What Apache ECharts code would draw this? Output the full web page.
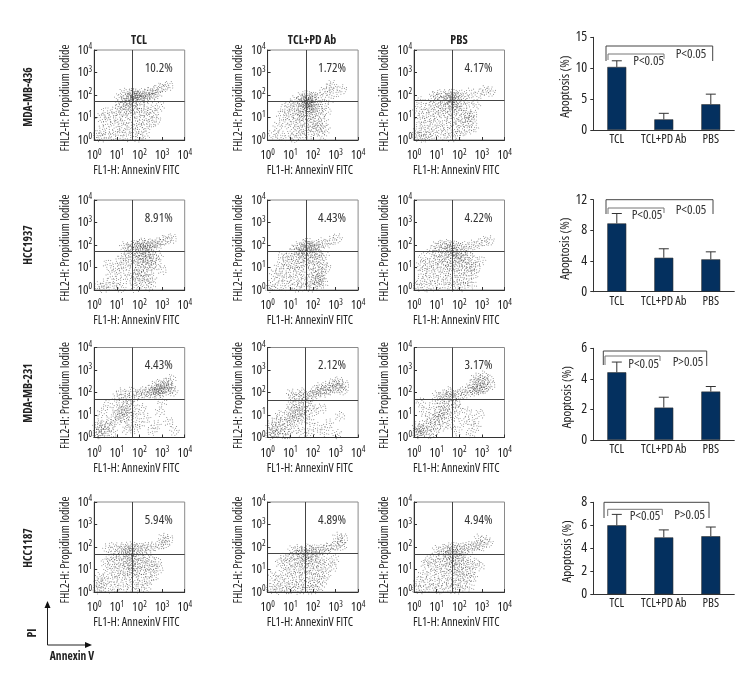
<!DOCTYPE html>
<html><head><meta charset="utf-8">
<script src="https://cdn.jsdelivr.net/npm/echarts@6/dist/echarts.min.js"></script>
<style>html,body{margin:0;padding:0;background:#fff}#c{width:756px;height:696px}</style>
</head><body><div id="c"></div>
<script>
const FONT='"Open Sans",sans-serif',FS='condensed';
const columns=['TCL','TCL+PD Ab','PBS'];
const cellLines=['MDA-MB-436','HCC1937','MDA-MB-231','HCC1187'];
const percents=[['10.2%','1.72%','4.17%'],['8.91%','4.43%','4.22%'],['4.43%','2.12%','3.17%'],['5.94%','4.89%','4.94%']];
const gateX=[[1.69,1.72,1.69],[1.70,1.73,1.68],[1.70,1.67,1.69],[1.69,1.67,1.69]];
const gateY=[[1.72,1.73,1.76],[1.72,1.72,1.72],[1.70,1.67,1.70],[1.70,1.73,1.69]];

const r1c1=[[1.45,1.95],[1.6,2.02],[1.72,1.92],[1.78,2.06],[1.85,1.88],[1.92,2.0],[2.02,1.94],[2.1,2.08],[2.18,1.9],[2.28,2.02],[2.4,2.1],[2.55,2.16],[2.7,2.2],[2.9,2.3],[3.1,2.35],[3.3,2.42],[1.3,2.1],[1.55,1.8],[1.65,1.7],[1.75,1.78],[1.82,1.98],[1.7,2.12],[2.0,1.8],[2.25,1.78],[2.45,1.85],[2.6,1.98],[2.8,2.05],[1.1,1.85],[1.4,1.55],[1.5,1.35],[1.62,1.5],[1.3,1.25],[1.15,1.45],[0.95,1.3],[0.75,1.05],[1.05,0.95],[1.35,0.9],[1.6,1.1],[1.8,1.4],[1.9,1.2],[2.05,1.5],[2.2,1.3],[2.35,1.05],[2.5,1.35],[2.65,1.2],[2.1,0.9],[1.85,0.75],[1.55,0.6],[1.25,0.55],[0.9,0.65],[0.55,0.8],[0.35,0.45],[0.6,0.25],[0.15,0.2],[0.3,0.1],[0.85,0.2],[1.15,0.3],[1.45,0.15],[1.75,0.35],[2.0,0.5],[2.3,0.6],[2.55,0.75],[2.25,0.2],[1.95,0.12],[2.75,0.9],[0.5,1.25],[0.3,1.0],[1.2,1.65],[1.45,1.72],[2.9,1.5]];
const r1c2=[[1.6,1.7],[1.7,1.55],[1.8,1.75],[1.55,1.45],[1.9,1.6],[1.72,1.85],[1.45,1.7],[2.0,1.72],[2.1,1.5],[1.85,1.35],[1.65,1.25],[1.4,1.3],[1.25,1.5],[1.1,1.2],[0.95,1.05],[1.3,1.0],[1.55,0.95],[1.8,1.05],[2.05,1.2],[2.25,1.4],[2.35,1.1],[2.15,0.85],[1.95,0.7],[2.3,0.55],[2.5,0.8],[2.1,0.4],[1.85,0.25],[2.4,0.2],[1.6,0.5],[1.3,0.4],[1.05,0.6],[0.8,0.8],[0.6,1.1],[0.45,0.6],[0.25,0.25],[0.55,0.2],[0.9,0.15],[1.2,0.1],[1.5,0.2],[2.6,1.3],[2.45,1.6],[2.7,1.8],[1.2,1.75],[1.0,1.55],[0.75,1.4],[1.75,2.0],[1.5,1.95],[2.0,1.95],[2.25,1.9],[2.5,2.15],[2.7,2.3],[3.0,2.1],[2.85,2.45],[3.3,2.25],[1.95,1.1],[2.2,0.65],[1.75,0.6],[2.02,1.88],[1.65,1.85],[1.85,1.6],[1.75,1.4],[1.95,1.45],[1.55,1.15],[1.35,0.75],[2.55,0.45],[1.68,1.62],[1.78,1.68]];
const r1c3=[[1.0,2.0],[1.25,2.05],[1.5,1.98],[1.7,2.08],[1.9,1.95],[2.05,2.02],[2.2,1.88],[1.45,1.85],[1.6,1.8],[1.75,1.9],[1.3,1.75],[1.05,1.8],[0.85,1.9],[2.5,2.1],[2.9,2.05],[3.15,2.2],[3.4,2.15],[1.6,1.62],[1.75,1.55],[1.9,1.68],[1.5,1.45],[1.3,1.55],[1.1,1.4],[0.9,1.55],[0.65,1.45],[0.45,1.2],[0.75,1.1],[1.0,1.05],[1.25,1.2],[1.5,1.15],[1.7,1.3],[1.85,1.45],[2.0,1.3],[2.15,1.5],[2.3,1.2],[2.45,1.05],[2.55,0.9],[2.35,0.8],[2.2,0.95],[2.6,1.15],[2.05,0.75],[1.85,0.95],[1.6,0.85],[1.35,0.7],[1.1,0.55],[0.85,0.7],[0.55,0.75],[0.3,0.9],[0.2,0.5],[0.4,0.35],[0.65,0.3],[0.1,0.2],[0.25,0.1],[0.5,0.12],[0.85,0.25],[1.2,0.2],[1.5,0.35],[1.8,0.5],[2.1,0.4],[2.4,0.45],[1.95,0.2],[1.65,0.12],[2.65,0.55],[0.15,1.3],[0.3,1.7],[2.45,1.7],[2.75,1.6],[1.62,1.9],[1.8,1.78]];
const r2c1=[[1.65,1.95],[1.8,2.02],[1.95,1.92],[2.05,2.05],[2.15,1.88],[2.25,1.98],[2.35,2.02],[2.45,1.9],[2.55,2.06],[2.65,2.0],[2.75,2.1],[2.9,2.05],[3.05,2.2],[3.25,2.25],[3.45,2.3],[1.35,1.95],[1.5,1.85],[1.75,1.82],[2.1,2.1],[2.4,1.8],[2.2,1.72],[1.95,1.6],[2.1,1.5],[2.3,1.55],[2.5,1.62],[2.65,1.4],[2.4,1.35],[2.15,1.25],[1.9,1.35],[1.75,1.5],[1.6,1.25],[1.8,1.1],[2.05,1.0],[2.3,1.1],[2.55,1.1],[2.75,1.2],[2.45,0.85],[2.2,0.75],[1.95,0.8],[1.7,0.8],[2.1,0.55],[2.35,0.5],[2.55,0.45],[1.9,0.35],[2.2,0.25],[2.5,0.15],[1.8,0.1],[1.5,0.5],[1.35,1.1],[1.15,1.3],[0.95,1.0],[1.2,0.8],[0.75,0.7],[1.0,0.4],[0.6,1.15],[0.5,0.3],[0.2,0.15],[0.4,0.08],[0.8,0.15],[1.2,0.1],[1.5,1.5],[1.3,1.55],[2.85,1.55],[3.0,0.9],[2.0,1.75],[2.3,1.4],[1.85,0.6]];
const r2c2=[[1.35,1.95],[1.5,1.85],[1.6,2.02],[1.72,1.92],[1.85,1.98],[1.98,1.88],[2.1,2.0],[2.25,1.95],[1.75,2.12],[2.4,2.1],[2.6,2.05],[2.85,2.2],[3.1,2.3],[1.2,1.8],[1.4,1.65],[1.6,1.7],[1.8,1.75],[2.0,1.65],[2.2,1.6],[1.05,1.6],[1.25,1.45],[1.5,1.4],[1.7,1.5],[1.9,1.4],[2.1,1.35],[2.35,1.45],[2.5,1.55],[0.85,1.4],[0.65,1.5],[0.95,1.15],[1.2,1.1],[1.45,1.1],[1.7,1.2],[1.95,1.1],[2.2,1.05],[2.45,1.1],[0.75,0.95],[0.5,1.05],[1.05,0.8],[1.35,0.85],[1.6,0.7],[1.9,0.8],[2.15,0.7],[2.35,0.8],[0.55,0.6],[0.85,0.5],[1.2,0.45],[1.5,0.35],[1.85,0.4],[2.1,0.45],[2.3,0.5],[2.45,0.3],[2.2,0.2],[1.95,0.12],[1.65,0.15],[1.3,0.12],[0.9,0.15],[0.55,0.2],[0.2,0.25],[0.1,0.1],[0.3,0.7],[2.15,1.85],[1.78,1.98],[2.25,0.35],[2.4,0.6],[2.6,1.0],[1.55,1.55]];
const r2c3=[[1.0,1.95],[1.2,2.0],[1.4,2.05],[1.6,1.92],[1.8,2.0],[2.0,1.9],[2.2,1.95],[2.4,1.85],[2.6,2.0],[2.85,2.05],[3.1,2.15],[3.35,2.2],[1.5,1.8],[1.7,1.75],[1.3,1.7],[1.05,1.65],[0.8,1.75],[1.9,1.7],[2.1,1.6],[1.55,1.55],[1.75,1.45],[1.95,1.5],[2.2,1.45],[2.4,1.55],[2.6,1.35],[1.3,1.45],[1.1,1.35],[0.85,1.3],[0.6,1.2],[0.4,1.45],[1.45,1.25],[1.7,1.2],[1.9,1.05],[2.15,1.2],[2.35,1.1],[2.55,1.1],[2.75,1.0],[2.95,1.3],[1.2,1.05],[0.95,0.95],[0.7,0.85],[0.4,0.8],[1.45,0.85],[1.7,0.75],[1.95,0.75],[2.2,0.85],[2.45,0.8],[2.65,0.7],[1.2,0.6],[0.9,0.5],[0.6,0.45],[0.25,0.4],[1.5,0.45],[1.8,0.4],[2.1,0.45],[2.35,0.4],[2.55,0.25],[2.15,0.15],[1.75,0.15],[1.35,0.2],[0.95,0.15],[0.55,0.12],[0.15,0.15],[0.3,1.1],[1.62,1.98],[1.72,1.62],[1.6,1.05],[2.0,1.3]];
const r3c1=[[0.12,0.15],[0.2,0.3],[0.3,0.18],[0.25,0.5],[0.15,0.6],[0.4,0.35],[0.55,0.25],[0.5,0.6],[0.7,0.5],[0.85,0.2],[0.75,0.8],[0.95,0.7],[1.05,1.05],[1.15,0.9],[1.25,1.15],[1.0,1.25],[1.3,0.85],[1.4,1.1],[1.5,1.3],[1.35,1.4],[1.2,1.55],[1.6,1.0],[1.55,0.6],[1.65,1.45],[1.45,0.35],[1.8,0.4],[2.0,0.6],[1.85,1.05],[2.1,1.3],[2.3,0.85],[2.55,0.3],[2.75,0.55],[2.9,1.15],[3.3,0.7],[3.55,0.3],[3.0,1.6],[1.0,1.8],[1.4,1.85],[1.6,1.75],[1.2,2.0],[1.65,2.05],[1.9,1.85],[2.0,1.95],[2.15,2.05],[2.3,1.95],[2.45,2.1],[2.6,2.02],[2.7,2.1],[2.8,2.14],[2.85,2.08],[2.9,2.16],[2.95,2.05],[3.05,2.12],[3.15,2.2],[3.25,2.08],[3.4,2.18],[2.65,2.3],[2.85,2.35],[3.05,2.4],[3.25,2.45],[3.4,2.6],[3.3,2.3],[3.5,2.05],[2.5,1.9],[2.8,1.95],[0.6,1.45],[0.35,1.1]];
const r3c2=[[0.1,0.12],[0.18,0.28],[0.3,0.15],[0.15,0.55],[0.3,0.45],[0.45,0.22],[0.65,0.15],[0.55,0.45],[0.8,0.35],[0.9,0.12],[0.7,0.7],[0.9,0.65],[1.0,0.9],[1.1,0.75],[1.2,1.0],[1.3,0.85],[0.95,1.15],[1.25,1.25],[1.4,1.1],[1.5,1.35],[1.6,1.2],[1.35,1.5],[1.55,0.8],[1.7,1.0],[1.2,0.4],[1.5,0.25],[1.85,0.2],[1.85,0.7],[2.05,1.15],[2.2,0.45],[2.5,0.25],[2.7,0.6],[3.05,0.15],[3.2,0.95],[2.4,1.3],[1.9,1.4],[1.1,1.75],[1.4,1.8],[1.6,1.9],[1.75,1.8],[1.05,1.95],[1.5,2.0],[1.9,1.85],[2.05,1.9],[2.2,2.0],[2.35,2.05],[2.5,2.0],[2.6,2.15],[2.75,2.1],[2.85,2.25],[3.0,2.15],[3.1,2.3],[3.2,2.2],[3.35,2.1],[2.95,2.45],[3.15,2.5],[2.65,2.3],[2.35,2.25],[3.4,2.35],[2.1,2.1],[0.55,1.0],[0.4,0.75],[1.05,1.4],[1.7,1.55]];
const r3c3=[[0.12,0.15],[0.2,0.25],[0.3,0.2],[0.22,0.38],[0.35,0.4],[0.15,0.5],[0.5,0.3],[0.65,0.15],[0.55,0.6],[0.75,0.55],[0.9,0.25],[0.7,0.9],[0.9,0.8],[1.05,0.95],[1.15,0.8],[1.25,1.0],[1.1,1.15],[1.35,1.2],[1.5,0.95],[1.45,1.4],[1.25,1.5],[1.65,1.3],[1.6,0.6],[1.3,0.5],[1.0,0.5],[1.8,0.95],[1.95,1.3],[1.9,0.3],[2.2,0.7],[2.5,0.2],[2.55,0.75],[2.75,0.5],[2.9,1.05],[2.35,1.15],[0.45,1.15],[0.3,1.55],[0.85,1.4],[1.0,1.85],[1.3,1.9],[1.45,1.8],[1.6,1.95],[1.7,1.75],[1.55,2.05],[1.85,1.85],[2.0,1.95],[2.15,2.05],[2.3,1.9],[2.45,2.1],[2.6,2.15],[2.7,2.05],[2.8,2.1],[2.9,2.18],[3.0,2.12],[3.1,2.2],[3.2,2.25],[2.85,2.35],[2.7,2.45],[2.95,2.55],[3.1,2.5],[3.3,2.6],[3.05,2.75],[2.55,2.35],[2.75,2.65],[3.4,2.35],[1.85,1.55],[1.15,1.7]];
const r4c1=[[0.6,1.95],[0.9,2.0],[1.15,1.92],[1.35,2.02],[1.55,1.9],[1.7,2.05],[1.85,1.92],[2.0,1.98],[2.15,1.9],[2.3,2.0],[2.5,1.95],[2.7,2.05],[2.95,2.1],[3.15,2.15],[3.3,2.35],[3.05,2.4],[1.4,1.82],[1.6,1.76],[1.2,1.65],[0.95,1.6],[0.7,1.55],[1.45,1.55],[1.65,1.6],[1.8,1.45],[2.0,1.6],[2.25,1.55],[2.45,1.45],[1.3,1.35],[1.05,1.3],[0.8,1.25],[0.5,1.3],[1.5,1.25],[1.7,1.15],[1.9,1.2],[2.15,1.3],[2.35,1.15],[2.6,1.1],[2.85,1.05],[1.2,1.0],[0.95,0.9],[0.6,0.9],[1.45,0.95],[1.65,0.85],[1.9,0.9],[2.15,0.95],[2.4,0.85],[2.65,0.7],[1.15,0.65],[0.85,0.55],[0.5,0.5],[0.25,0.65],[1.45,0.6],[1.8,0.55],[2.1,0.55],[2.4,0.5],[2.3,0.2],[2.0,0.18],[1.65,0.25],[1.3,0.2],[0.95,0.2],[0.6,0.15],[0.3,0.25],[0.12,0.12],[0.2,0.4],[1.65,1.35],[1.72,1.0],[2.75,1.35],[1.7,1.88]];
const r4c2=[[1.1,1.85],[1.35,1.9],[1.55,1.82],[1.75,1.95],[1.9,1.85],[2.05,1.92],[2.2,1.82],[2.35,1.9],[2.5,1.85],[2.65,1.95],[2.8,2.0],[3.0,2.05],[3.2,2.2],[3.35,2.4],[3.3,2.05],[3.1,2.45],[1.45,1.7],[1.25,1.62],[1.0,1.55],[0.75,1.5],[1.6,1.55],[1.8,1.62],[2.05,1.55],[2.3,1.55],[1.4,1.4],[1.15,1.3],[0.85,1.2],[0.55,1.3],[1.6,1.25],[1.85,1.35],[2.1,1.3],[2.35,1.2],[2.6,1.3],[2.85,1.1],[1.35,1.05],[1.05,0.95],[0.7,0.85],[1.6,0.95],[1.85,1.05],[2.1,0.95],[2.35,0.85],[2.6,0.8],[1.3,0.7],[0.95,0.6],[0.55,0.55],[0.25,0.7],[1.6,0.65],[1.85,0.7],[2.15,0.6],[2.45,0.5],[1.4,0.35],[1.1,0.3],[0.75,0.25],[0.35,0.3],[1.7,0.3],[2.0,0.35],[2.3,0.25],[2.05,0.12],[1.7,0.1],[1.35,0.12],[0.95,0.1],[0.5,0.1],[0.12,0.15],[1.55,1.78],[1.72,1.4],[1.95,1.72],[2.95,1.45]];
const r4c3=[[1.0,1.85],[1.3,1.9],[1.5,1.98],[1.65,1.85],[1.8,2.02],[1.95,1.9],[2.1,1.98],[2.25,1.88],[2.4,2.02],[2.55,1.95],[2.7,2.05],[2.85,2.08],[3.0,2.02],[3.15,2.3],[3.3,2.2],[2.85,2.35],[1.6,1.7],[1.72,1.6],[1.45,1.65],[1.2,1.65],[0.95,1.55],[0.65,1.4],[1.85,1.7],[2.05,1.6],[2.3,1.55],[1.55,1.45],[1.75,1.35],[1.95,1.45],[1.35,1.35],[1.1,1.25],[0.85,1.15],[0.5,1.25],[2.2,1.3],[2.45,1.2],[2.7,1.3],[2.9,1.15],[1.6,1.1],[1.8,1.0],[2.0,1.15],[2.25,0.95],[2.5,0.9],[1.35,0.95],[1.1,0.85],[0.75,0.8],[0.4,0.75],[1.55,0.75],[1.85,0.65],[2.1,0.7],[2.35,0.6],[2.6,0.65],[1.25,0.5],[0.95,0.45],[0.6,0.4],[0.2,0.45],[1.55,0.4],[1.85,0.35],[2.15,0.3],[2.45,0.25],[1.95,0.12],[1.55,0.15],[1.15,0.12],[0.8,0.15],[0.4,0.12],[0.1,0.15],[1.72,1.9],[1.68,1.25],[2.0,0.9]];
const scatterData=[[r1c1,r1c2,r1c3],[r2c1,r2c2,r2c3],[r3c1,r3c2,r3c3],[r4c1,r4c2,r4c3]];

const barLabels=['TCL','TCL+PD Ab','PBS'];
const apoptosis=[[10.2,1.72,4.17],[8.91,4.43,4.22],[4.43,2.12,3.17],[6.0,4.95,5.05]];
const errorTop=[[11.2,2.7,5.8],[10.2,5.6,5.2],[5.1,2.8,3.5],[6.95,5.6,5.85]];
const barMax=[15,12,6,8];
const barInterval=[5,4,2,2];

const colLeft=[94.2,267.6,414];
const rowTop=[50,200,347.5,502];
const PW=90.5,PH=90;
const barTop=[37.3,199.7,348.3,502.3];
const barBottom=[130,291.7,440,594.3];
const SPECK='path://M0 4h.8v.8h-.8zM2 8h.8v.8h-.8zM3 1h.8v.8h-.8zM4.5 5h.8v.8h-.8zM6 2.5h.8v.8h-.8zM7 8.6h.8v.8h-.8zM9.2 5.5h.8v.8h-.8zM5 0h.8v.8h-.8zM8 .8h.8v.8h-.8zM1.2 2.4h.8v.8h-.8zM3.1 6.4h.8v.8h-.8zM5.6 7.2h.8v.8h-.8zM7.4 4.3h.8v.8h-.8zM2.3 4.2h.8v.8h-.8z';

const grids=[],xAxes=[],yAxes=[],series=[],graphics=[];
const sup=v=>'{b|10}{s|'+v+'}';
const rich={b:{fontFamily:FONT,fontStyle:FS,fontSize:13,color:'#222'},s:{fontFamily:FONT,fontStyle:FS,fontSize:8.5,color:'#222',padding:[0,0,6,0]}};
const nameStyle={fontFamily:FONT,fontStyle:FS,fontSize:12,color:'#222',padding:[0,6,0,0]};
scatterData.forEach((row,r)=>row.forEach((pts,c)=>{
  const g=grids.length;
  grids.push({left:colLeft[c],top:rowTop[r],width:PW,height:PH,show:true,borderColor:'#8a8a8a',borderWidth:1,backgroundColor:'#fff'});
  xAxes.push({gridIndex:g,type:'value',min:0,max:4,interval:1,splitLine:{show:false},
    axisLine:{onZero:false,lineStyle:{color:'#333'}},axisTick:{inside:true,length:3,lineStyle:{color:'#333'}},
    axisLabel:{formatter:sup,rich,margin:8,showMinLabel:true,showMaxLabel:true},
    name:'FL1-H: AnnexinV FITC',nameLocation:'middle',nameGap:25,nameTextStyle:nameStyle});
  yAxes.push({gridIndex:g,type:'value',min:0,max:4,interval:1,splitLine:{show:false},
    axisLine:{onZero:false,lineStyle:{color:'#333'}},axisTick:{inside:true,length:3,lineStyle:{color:'#333'}},
    axisLabel:{formatter:sup,rich,margin:2,showMinLabel:true,showMaxLabel:true},
    name:'FHL2-H: Propidium Iodide',nameLocation:'middle',nameGap:23,nameTextStyle:nameStyle});
  series.push({type:'scatter',xAxisIndex:g,yAxisIndex:g,data:pts,clip:true,symbol:SPECK,symbolSize:10,
    symbolRotate:v=>(v[0]*137+v[1]*211)%360,itemStyle:{color:'#3a3a3a',opacity:0.72},silent:true,z:2,
    markLine:{silent:true,symbol:'none',animation:false,label:{show:false},lineStyle:{color:'#444',width:1,type:'solid'},
      data:[{xAxis:gateX[r][c]},{yAxis:gateY[r][c]}]},
    markPoint:{silent:true,symbol:'circle',symbolSize:0,animation:false,
      label:{show:true,position:'inside',formatter:percents[r][c],fontFamily:FONT,fontStyle:FS,fontSize:13,color:'#333'},
      data:[{coord:[2.85,3.2]}]}});
}));
apoptosis.forEach((vals,r)=>{
  const g=grids.length;
  grids.push({left:593.3,width:141,top:barTop[r],height:barBottom[r]-barTop[r]});
  xAxes.push({gridIndex:g,type:'category',data:barLabels,axisTick:{show:false},axisLine:{lineStyle:{color:'#333'}},
    axisLabel:{interval:0,fontFamily:FONT,fontStyle:FS,fontSize:12.5,color:'#222',margin:3}});
  yAxes.push({gridIndex:g,type:'value',min:0,max:barMax[r],interval:barInterval[r],splitLine:{show:false},
    axisLine:{show:true,lineStyle:{color:'#333'}},axisTick:{show:true,length:3,lineStyle:{color:'#333'}},
    axisLabel:{fontFamily:FONT,fontStyle:FS,fontSize:14,color:'#222',margin:6},
    name:'Apoptosis (%)',nameLocation:'middle',nameGap:20,nameTextStyle:{fontFamily:FONT,fontStyle:FS,fontSize:13,color:'#222',padding:[0,6,0,0]}});
  series.push({type:'bar',xAxisIndex:g,yAxisIndex:g,data:vals,barWidth:19,itemStyle:{color:'#04305f',borderColor:'#333',borderWidth:0.6},silent:true});
  series.push({type:'custom',xAxisIndex:g,yAxisIndex:g,silent:true,z:1,data:vals.map((v,i)=>[i,v,errorTop[r][i]]),
    encode:{x:0,y:[1,2]},
    renderItem(p,api){
      const a=api.coord([api.value(0),api.value(1)]),b=api.coord([api.value(0),api.value(2)]);
      const st={stroke:'#333',lineWidth:1,fill:null};
      return {type:'group',children:[
        {type:'line',shape:{x1:a[0],y1:a[1],x2:b[0],y2:b[1]},style:st},
        {type:'line',shape:{x1:b[0]-5,y1:b[1],x2:b[0]+5,y2:b[1]},style:st}]};
    }});
});
const txt=(t,x,y,o={})=>graphics.push({type:'text',x,y,rotation:o.rot||0,silent:true,z:10,style:{text:t,x:0,y:0,
  textAlign:'center',textVerticalAlign:'middle',fontFamily:FONT,fontStyle:FS,fontSize:o.size||13,fontWeight:o.bold?'bold':'normal',fill:o.fill||'#222'}});
const poly=(pts,stroke)=>graphics.push({type:'polyline',silent:true,z:10,shape:{points:pts},style:{stroke,lineWidth:1,fill:null}});
columns.forEach((t,i)=>txt(t,[139,312,459][i],41,{bold:true,size:12}));
const rowLabelY=[97,245,393,548];
cellLines.forEach((t,i)=>txt(t,29,rowLabelY[i],{bold:true,size:11.5,rot:Math.PI/2}));
const brackets=[
 {o:[[606,61],[606,46],[712.7,46],[712.7,61]],i:[[608,60],[608,54],[664,54],[664,59]],a:['P<0.05',648.7,61.7],b:['P<0.05',691,54.7]},
 {o:[[606,214],[606,199.7],[713,199.7],[713,214]],i:[[608,214],[608,208],[664,208],[664,213]],a:['P<0.05',647,215.7],b:['P<0.05',691,210]},
 {o:[[603.3,365],[603.3,351],[706.7,351],[706.7,366]],i:[[605,365],[605,356],[660,356],[660,361]],a:['P<0.05',643.7,364],b:['P>0.05',688,362]},
 {o:[[604,518],[604,502.3],[709,502.3],[709,518]],i:[[607.7,516],[607.7,509.3],[662.3,509.3],[662.3,515]],a:['P<0.05',645,516.7],b:['P>0.05',689.7,515]}];
brackets.forEach(b=>{poly(b.o,'#444');poly(b.i,'#777');txt(b.a[0],b.a[1],b.a[2],{fill:'#333'});txt(b.b[0],b.b[1],b.b[2],{fill:'#333'});});
poly([[47.5,606],[47.5,645],[88,645]],'#222');
graphics.push({type:'polygon',silent:true,z:10,shape:{points:[[47.5,601],[44.5,608],[50.5,608]]},style:{fill:'#111'}});
graphics.push({type:'polygon',silent:true,z:10,shape:{points:[[92,645],[85,642],[85,648]]},style:{fill:'#111'}});
txt('PI',33,633,{bold:true,size:12,rot:Math.PI/2});
txt('Annexin V',72,657,{bold:true,size:11.5});

const chart=echarts.init(document.getElementById('c'),null,{renderer:'canvas'});
chart.setOption({animation:false,backgroundColor:'#fff',grid:grids,xAxis:xAxes,yAxis:yAxes,series,graphic:graphics});
</script></body></html>
